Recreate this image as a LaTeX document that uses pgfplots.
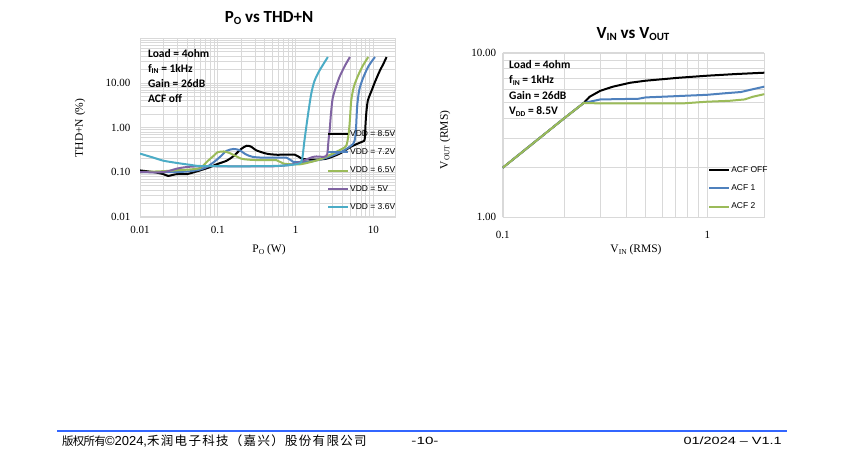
\documentclass[border=0pt]{standalone}
\usepackage{pgfplots}
\pgfplotsset{compat=1.18}
\usepackage{fontspec}
\setmainfont{Liberation Serif}
\newfontfamily\calibri{Carlito}
\newfontfamily\arial{Liberation Sans}
\newfontfamily\cjk{Noto Sans CJK SC}
\definecolor{cblue}{HTML}{4F81BD}
\definecolor{cgreen}{HTML}{9BBB59}
\definecolor{cpurple}{HTML}{8064A2}
\definecolor{ccyan}{HTML}{4BACC6}
\definecolor{gridc}{HTML}{D9D9D9}
\definecolor{footblue}{HTML}{3366FF}
\newcommand\sub[1]{\raisebox{-0.3ex}{\fontsize{7.5}{8}\selectfont #1}}
\newcommand\tsub[1]{\raisebox{-0.35ex}{\fontsize{11}{12}\selectfont #1}}
\newcommand\lsub[1]{\raisebox{-0.3ex}{\fontsize{7.5}{8}\selectfont #1}}
\newcommand\cwa[1]{\makebox[10.7pt][l]{#1}}
\newcommand\cwb[1]{\makebox[13.8pt][l]{#1}}
\pgfplotsset{
  every axis/.append style={
    scale only axis,
    grid=both,
    major grid style={gridc, line width=0.6pt},
    minor grid style={gridc, line width=0.6pt},
    axis line style={gridc},
    tick style={draw=none}, major tick length=0pt, minor tick length=0pt,
    ticklabel style={font=\fontsize{11}{12}\selectfont},
    legend cell align=left,
  },
  every axis plot/.append style={line width=2pt, line join=round, mark=none},
}
\begin{document}
\begin{tikzpicture}
\useasboundingbox[fill=white] (0,0) rectangle (850pt,456pt);

% ---------------- Left chart ----------------
\begin{axis}[xmode=log, ymode=log,
  at={(140pt,239.3pt)}, anchor=south west,
  width=255pt, height=178.4pt,
  xmin=0.01, xmax=19, ymin=0.01, ymax=100,
  xtick={0.01,0.1,1,10}, xticklabels={0.01,0.1,1,10},
  ytick={0.01,0.1,1,10}, yticklabels={0.01,0.10,1.00,10.00},
  yticklabel style={xshift=-6pt},
  xticklabel style={yshift=-6pt},
  minor xtick={0.02,0.03,0.04,0.05,0.06,0.07,0.08,0.09,0.2,0.3,0.4,0.5,0.6,0.7,0.8,0.9,2,3,4,5,6,7,8,9},
  minor ytick={0.02,0.03,0.04,0.05,0.06,0.07,0.08,0.09,0.2,0.3,0.4,0.5,0.6,0.7,0.8,0.9,2,3,4,5,6,7,8,9,20,30,40,50,60,70,80,90},
  legend image code/.code={\draw[#1, line width=2pt] (0pt,0pt) -- (20pt,0pt);},
  legend style={at={(0.733,0.492)}, anchor=north west, draw=none, fill=none,
    font=\arial\fontsize{8.5}{10}\selectfont, row sep=9pt, inner sep=0pt,
    nodes={inner sep=1pt}},
]
\addplot[black, smooth, tension=0.45] coordinates {(0.01,0.109)(0.015,0.1)(0.02,0.09)(0.023,0.082)(0.026,0.086)(0.03,0.09)(0.04,0.09)(0.05,0.1)(0.06,0.11)(0.08,0.13)(0.097,0.15)(0.13,0.18)(0.16,0.23)(0.2,0.33)(0.235,0.39)(0.27,0.37)(0.31,0.31)(0.42,0.26)(0.57,0.245)(0.98,0.245)(1.2,0.2)(1.7,0.19)(2.5,0.2)(3.7,0.26)(5.0,0.36)(6.0,0.42)(7.0,0.47)(7.6,0.5)(7.8,0.6)(7.9,1.0)(8.1,2)(8.5,4)(9.5,6.7)(10.5,10.5)(12,18)(13.5,27)(14.8,38)};
\addlegendentry{VDD = 8.5V}
\addplot[cblue, smooth, tension=0.45] coordinates {(0.01,0.1)(0.02,0.1)(0.03,0.1)(0.045,0.105)(0.06,0.115)(0.072,0.13)(0.09,0.17)(0.107,0.22)(0.13,0.3)(0.16,0.33)(0.19,0.31)(0.23,0.25)(0.28,0.22)(0.4,0.21)(0.77,0.21)(0.93,0.17)(1.5,0.17)(2.5,0.21)(4.1,0.3)(5.5,0.43)(5.85,0.6)(6.0,1.0)(6.2,3)(6.6,7)(7.4,13)(8.7,24)(10.5,38)};
\addlegendentry{VDD = 7.2V}
\addplot[cgreen, smooth, tension=0.45] coordinates {(0.01,0.1)(0.02,0.105)(0.03,0.11)(0.045,0.115)(0.06,0.125)(0.075,0.18)(0.088,0.23)(0.1,0.28)(0.12,0.29)(0.14,0.27)(0.17,0.23)(0.2,0.2)(0.25,0.19)(0.35,0.185)(0.57,0.185)(0.7,0.155)(1.15,0.15)(2.0,0.19)(3.0,0.26)(4.3,0.36)(4.6,0.45)(4.85,0.8)(5.0,1.5)(5.2,4)(5.6,8)(6.3,14)(7.3,24)(8.6,38)};
\addlegendentry{VDD = 6.5V}
\addplot[cpurple, smooth, tension=0.45] coordinates {(0.01,0.1)(0.02,0.1)(0.03,0.12)(0.04,0.13)(0.06,0.135)(0.2,0.135)(0.52,0.135)(0.93,0.15)(1.7,0.22)(2.3,0.22)(2.55,0.25)(2.65,0.5)(2.75,0.9)(2.85,2)(3.0,4.5)(3.3,8)(3.7,14)(4.3,24)(5.0,38)};
\addlegendentry{VDD = 5V}
\addplot[ccyan, smooth, tension=0.45] coordinates {(0.01,0.26)(0.015,0.21)(0.02,0.18)(0.03,0.16)(0.045,0.145)(0.06,0.137)(0.2,0.135)(0.5,0.137)(0.8,0.142)(1.0,0.15)(1.15,0.16)(1.22,0.2)(1.3,0.5)(1.4,1.3)(1.5,3)(1.6,6)(1.75,11)(2.0,18)(2.3,27)(2.6,38)};
\addlegendentry{VDD = 3.6V}
\node[anchor=north west, align=left, inner sep=0pt, font=\calibri\bfseries\fontsize{11.5}{15}\selectfont]
  at (rel axis cs:0.031,0.94) {Load = 4ohm\\ f\sub{IN} = 1kHz\\ Gain = 26dB\\ ACF off};
\end{axis}

% ---------------- Right chart ----------------
\begin{axis}[xmode=log, ymode=log,
  at={(502.7pt,238.7pt)}, anchor=south west,
  width=261.6pt, height=164.6pt,
  xmin=0.1, xmax=1.9, ymin=1, ymax=10,
  xtick={0.1,1}, xticklabels={0.1,1},
  ytick={1,10}, yticklabels={1.00,10.00},
  yticklabel style={xshift=-3pt},
  xticklabel style={yshift=-10pt},
  minor xtick={0.2,0.3,0.4,0.5,0.6,0.7,0.8,0.9},
  minor ytick={2,3,4,5,6,7,8,9},
  legend image code/.code={\draw[#1, line width=2pt] (0pt,0pt) -- (20pt,0pt);},
  legend style={at={(0.785,0.318)}, anchor=north west, draw=none, fill=none,
    font=\arial\fontsize{8.5}{10}\selectfont, row sep=9pt, inner sep=0pt,
    nodes={inner sep=1pt}},
]
\addplot[black] coordinates {(0.1,2.0)(0.15,3.0)(0.2,4.0)(0.249,4.95)(0.266,5.4)(0.3,5.87)(0.346,6.22)(0.42,6.57)(0.5,6.76)(0.73,7.05)(1.0,7.25)(1.38,7.42)(1.9,7.56)};
\addlegendentry{ACF OFF}
\addplot[cblue] coordinates {(0.1,2.0)(0.15,3.0)(0.2,4.0)(0.249,4.95)(0.3,5.2)(0.46,5.25)(0.5,5.35)(0.6,5.4)(1.0,5.55)(1.2,5.66)(1.46,5.77)(1.67,6.0)(1.9,6.22)};
\addlegendentry{ACF 1}
\addplot[cgreen] coordinates {(0.1,2.0)(0.15,3.0)(0.2,4.0)(0.249,4.95)(0.3,4.92)(0.76,4.92)(1.0,5.04)(1.28,5.1)(1.52,5.2)(1.67,5.4)(1.9,5.6)};
\addlegendentry{ACF 2}
\node[anchor=north west, align=left, inner sep=0pt, font=\calibri\bfseries\fontsize{11.5}{15.5}\selectfont]
  at (rel axis cs:0.024,0.957) {Load = 4ohm\\ f\sub{IN} = 1kHz\\ Gain = 26dB\\ V\sub{DD} = 8.5V};
\end{axis}

% ---------------- Titles and labels ----------------
\node[font=\calibri\bfseries\fontsize{17}{20}\selectfont] at (269pt,438pt) {P\tsub{O} vs THD+N};
\node[font=\calibri\bfseries\fontsize{17}{20}\selectfont] at (633pt,422pt) {V\tsub{IN} vs V\tsub{OUT}};
\node[rotate=90, font=\fontsize{11.5}{13}\selectfont] at (80pt,328pt) {THD+N (\%)};
\node[font=\fontsize{11.5}{13}\selectfont] at (269pt,206pt) {P\lsub{O} (W)};
\node[rotate=90, font=\fontsize{11.5}{13}\selectfont] at (445pt,316pt) {V\lsub{OUT} (RMS)};
\node[font=\fontsize{11.5}{13}\selectfont] at (636pt,206pt) {V\lsub{IN} (RMS)};

% ---------------- Footer ----------------
\draw[footblue, line width=2pt] (57pt,25pt) -- (787pt,25pt);
\node[anchor=base west, inner sep=0pt] at (62pt,10.5pt) {%
  {\cjk\fontsize{11.5}{13}\selectfont\cwa{版}\cwa{权}\cwa{所}\cwa{有}}%
  {\arial\fontsize{13}{14}\selectfont ©2024,}%
  {\cjk\fontsize{12.5}{14}\selectfont\cwb{禾}\cwb{润}\cwb{电}\cwb{子}\cwb{科}\cwb{技}\cwb{（}\cwb{嘉}\cwb{兴}\cwb{）}\cwb{股}\cwb{份}\cwb{有}\cwb{限}\cwb{公}\cwb{司}}};
\node[anchor=base, inner sep=0pt] at (425pt,12pt) {\scalebox{1.45}[1]{\arial\fontsize{10.5}{12}\selectfont -10-}};
\node[anchor=base east, inner sep=0pt] at (782pt,12pt) {\scalebox{1.38}[1]{\arial\fontsize{10.5}{12}\selectfont 01/2024 – V1.1}};
\end{tikzpicture}
\end{document}
